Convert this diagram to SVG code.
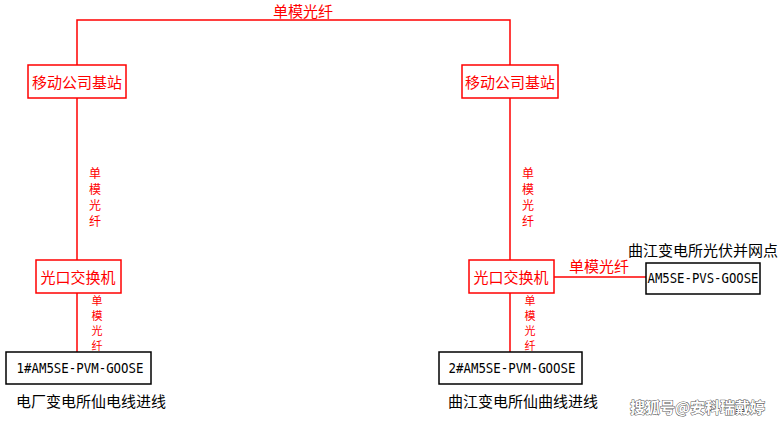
<svg xmlns="http://www.w3.org/2000/svg" width="784" height="423" viewBox="0 0 784 423">
<style>
.rbox{fill:#fff;stroke:#f00;stroke-width:1.5}
.kbox{fill:#fff;stroke:#000;stroke-width:1.5}
.ln{fill:none;stroke:#f00;stroke-width:1.5}
.rt{font-family:"Noto Sans CJK SC","Noto Sans",sans-serif;font-size:15px;fill:#f00;text-anchor:middle;dominant-baseline:central}
.vt{font-family:"Noto Sans CJK SC","Noto Sans",sans-serif;font-size:12px;fill:#f00;text-anchor:middle;dominant-baseline:central}
.vs{font-family:"Noto Sans CJK SC","Noto Sans",sans-serif;font-size:11px;fill:#f00;text-anchor:middle;dominant-baseline:central}
.kt{font-family:"Noto Sans CJK SC","Noto Sans",sans-serif;font-size:15px;fill:#000;dominant-baseline:central}
.mt{font-family:"DejaVu Sans Mono","Liberation Mono",monospace;font-size:14px;fill:#000;text-anchor:middle;dominant-baseline:central}
</style>
<rect width="784" height="423" fill="#fff"/>
<g id="connectors">
<polyline class="ln" points="77,65 77,20 510,20 510,65"/>
<line class="ln" x1="77" y1="98" x2="77" y2="260"/>
<line class="ln" x1="510" y1="98" x2="510" y2="260"/>
<line class="ln" x1="77" y1="293" x2="77" y2="352"/>
<line class="ln" x1="510" y1="293" x2="510" y2="352"/>
<line class="ln" x1="554" y1="277" x2="646" y2="277"/>
<text class="rt" x="303" y="10">单模光纤</text>
<text class="vt" x="95" y="172">单</text>
<text class="vt" x="95" y="188">模</text>
<text class="vt" x="95" y="204">光</text>
<text class="vt" x="95" y="220">纤</text>
<text class="vt" x="528" y="172">单</text>
<text class="vt" x="528" y="188">模</text>
<text class="vt" x="528" y="204">光</text>
<text class="vt" x="528" y="220">纤</text>
<text class="vs" x="97" y="300">单</text>
<text class="vs" x="97" y="315">模</text>
<text class="vs" x="97" y="330">光</text>
<text class="vs" x="97" y="345">纤</text>
<text class="vs" x="530" y="300">单</text>
<text class="vs" x="530" y="315">模</text>
<text class="vs" x="530" y="330">光</text>
<text class="vs" x="530" y="345">纤</text>
<text class="rt" x="599" y="265">单模光纤</text>
</g>
<g id="base1">
<rect class="rbox" x="28" y="65" width="98" height="33"/>
<text class="rt" x="77" y="81">移动公司基站</text>
</g>
<g id="base2">
<rect class="rbox" x="462" y="65" width="96" height="33"/>
<text class="rt" x="510" y="81">移动公司基站</text>
</g>
<g id="switch1">
<rect class="rbox" x="36" y="260" width="85" height="33"/>
<text class="rt" x="78" y="276">光口交换机</text>
</g>
<g id="switch2">
<rect class="rbox" x="469" y="260" width="85" height="33"/>
<text class="rt" x="511" y="276">光口交换机</text>
</g>
<g id="dev1">
<rect class="kbox" x="6" y="352" width="145" height="32"/>
<text class="mt" x="80" y="368" textLength="127" lengthAdjust="spacingAndGlyphs">1#AM5SE-PVM-GOOSE</text>
<text class="kt" x="16" y="400">电厂变电所仙电线进线</text>
</g>
<g id="dev2">
<rect class="kbox" x="439" y="352" width="143" height="32"/>
<text class="mt" x="512" y="368" textLength="127" lengthAdjust="spacingAndGlyphs">2#AM5SE-PVM-GOOSE</text>
<text class="kt" x="448" y="400">曲江变电所仙曲线进线</text>
</g>
<g id="dev3">
<rect class="kbox" x="646" y="263" width="114" height="31"/>
<text class="mt" x="703" y="278" textLength="111" lengthAdjust="spacingAndGlyphs">AM5SE-PVS-GOOSE</text>
<text class="kt" x="628" y="249">曲江变电所光伏并网点</text>
</g>
<text x="630" y="406" style="font-family:'Noto Sans CJK SC',sans-serif;font-size:15px;font-weight:bold;fill:#fff;stroke:#555;stroke-width:1;paint-order:stroke;dominant-baseline:central">搜狐号@安科瑞戴婷</text>
</svg>
